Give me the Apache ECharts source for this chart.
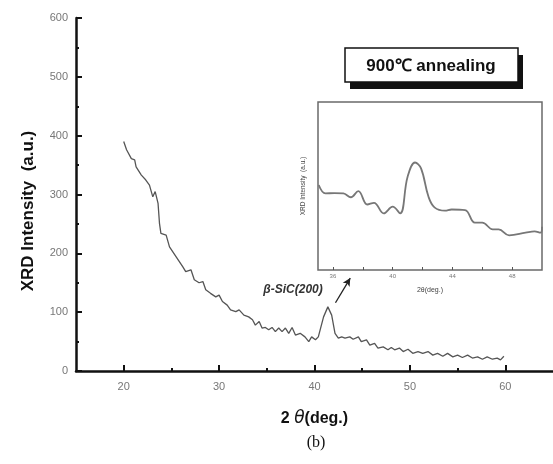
<!DOCTYPE html>
<html>
<head>
<meta charset="utf-8">
<script src="https://cdn.jsdelivr.net/npm/echarts@6/dist/echarts.min.js"></script>
<style>html,body{margin:0;padding:0;background:#fff;}#c{width:553px;height:464px;}</style>
</head>
<body>
<div id="c"></div>
<script>
// Main pattern: 2θ (deg.) vs intensity (a.u.)
const mainTheta = [20.0,20.3,20.8,21.0,21.15,21.3,21.85,22.0,22.3,22.7,23.05,23.3,23.6,23.75,23.9,24.45,24.8,25.5,26.2,26.5,27.05,27.4,27.9,28.3,28.6,29.1,29.65,30.0,30.35,30.85,31.2,31.75,32.1,32.6,33.1,33.5,33.8,34.2,34.5,34.85,35.2,35.55,35.9,36.25,36.6,36.95,37.3,37.65,38.0,38.5,39.0,39.4,39.7,40.1,40.4,40.95,41.4,41.8,42.15,42.5,42.85,43.2,43.7,44.05,44.6,44.9,45.45,45.8,46.3,46.65,47.2,47.7,48.05,48.4,48.9,49.3,49.8,50.3,50.85,51.35,51.9,52.4,52.9,53.45,53.95,54.5,55.0,55.5,56.05,56.55,57.1,57.6,58.1,58.65,59.15,59.5,59.85];
const mainIntensity = [390,376,361,364,359,347,333,330,325,316,296,305,285,251,234,231,211,194,177,169,172,155,150,152,138,132,126,129,118,112,104,101,104,95,92,87,78,84,73,74,70,74,67,73,67,73,64,74,61,64,58,50,58,53,58,92,109,95,64,56,58,56,58,54,58,50,53,44,47,39,41,36,40,36,39,33,37,30,33,30,33,27,30,25,30,24,27,23,27,22,24,20,24,20,22,19,25];
// Inset: enlarged region around the β-SiC(200) peak
const insetTheta = [35.05,35.5,36.1,36.7,37.2,37.7,38.3,38.75,39.4,40.0,40.5,41.0,41.5,41.9,42.4,42.8,43.5,43.95,44.85,45.5,46.0,46.7,47.1,47.8,48.9,49.5,49.9,50.0];
const insetIntensity = [50.6,45.6,45.8,45.6,43.3,47.0,39.0,40.0,33.7,37.7,33.7,55.5,64.0,60.5,43.6,37.3,35.3,36.0,35.7,28.2,28.2,24.2,24.2,20.6,22.2,23.0,22.2,25.8];
// Tick labels
const mainXLabels = [20,30,40,50,60];
const mainXMinor = [25,35,45,55];
const insetXTicks = [36,38,40,42,44,46,48];
const insetXLabels = [36,40,44,48];
// Annotation arrow (data coords) pointing from peak to inset
const arrowStart = [42.2,116];
const arrowEnd = [43.75,158];

const chart = echarts.init(document.getElementById('c'), null, {renderer:'canvas'});
const FONT = 'Liberation Sans, Arial, sans-serif';
const option = {
  animation:false,
  backgroundColor:'#ffffff',
  grid:[
    {left:76, top:18, width:480, height:353, show:false},
    {left:318, top:102, width:224, height:168, show:true, borderColor:'#6a6a6a', borderWidth:1.5, backgroundColor:'transparent'}
  ],
  xAxis:[
    {gridIndex:0, type:'value', min:15, max:65, interval:5,
     axisLine:{show:true, lineStyle:{color:'#111', width:2.5}},
     axisTick:{show:true, inside:true, length:6, customValues:mainXLabels, lineStyle:{color:'#111', width:2}},
     axisLabel:{show:true, customValues:mainXLabels, color:'#777', fontSize:11, fontFamily:FONT, margin:10},
     splitLine:{show:false},
     name:'{b|2 }{t|θ}{b|(deg.)}', nameLocation:'middle', nameGap:39,
     nameTextStyle:{rich:{b:{fontSize:16, fontWeight:'bold', fontFamily:FONT, color:'#111'}, t:{fontSize:17, fontStyle:'italic', fontFamily:'DejaVu Sans, sans-serif', color:'#111'}}}
    },
    {gridIndex:0, type:'value', min:15, max:65, interval:5, position:'bottom',
     axisLine:{show:false}, axisLabel:{show:false}, splitLine:{show:false},
     axisTick:{show:true, inside:true, length:3, customValues:mainXMinor, lineStyle:{color:'#111', width:2}}
    },
    {gridIndex:1, type:'value', min:35, max:50, interval:1,
     axisLine:{show:false},
     axisTick:{show:true, inside:true, length:3, customValues:insetXTicks, lineStyle:{color:'#555', width:1}},
     axisLabel:{show:true, customValues:insetXLabels, color:'#777', fontSize:6, fontFamily:FONT, margin:3},
     splitLine:{show:false},
     name:'2θ(deg.)', nameLocation:'middle', nameGap:17,
     nameTextStyle:{fontSize:7, color:'#444', fontFamily:FONT}
    }
  ],
  yAxis:[
    {gridIndex:0, type:'value', min:0, max:600, interval:100,
     axisLine:{show:true, lineStyle:{color:'#111', width:2.5}},
     axisTick:{show:true, inside:true, length:6, lineStyle:{color:'#111', width:2}},
     minorTick:{show:true, splitNumber:2, length:3, lineStyle:{color:'#111', width:2}},
     axisLabel:{color:'#777', fontSize:11, fontFamily:FONT, margin:8},
     splitLine:{show:false}
    },
    {gridIndex:1, type:'value', min:0, max:100,
     axisLine:{show:false}, axisTick:{show:false}, axisLabel:{show:false}, splitLine:{show:false},
     name:'XRD Intensity  (a.u.)', nameLocation:'middle', nameGap:11, nameRotate:90,
     nameTextStyle:{fontSize:6.5, color:'#444', fontFamily:FONT}
    }
  ],
  series:[
    {type:'line', xAxisIndex:0, yAxisIndex:0, showSymbol:false, symbol:'none',
     data: mainTheta.map((t,i)=>[t, mainIntensity[i]]),
     lineStyle:{color:'#555', width:1.3},
     markLine:{silent:true, symbol:['none','arrow'], symbolSize:[6,8], label:{show:false},
       lineStyle:{color:'#222', width:1.3, type:'solid'},
       data:[[{coord:arrowStart},{coord:arrowEnd}]]}
    },
    {type:'line', xAxisIndex:2, yAxisIndex:1, showSymbol:false, symbol:'none', smooth:0.4,
     data: insetTheta.map((t,i)=>[t, insetIntensity[i]]),
     lineStyle:{color:'#777', width:1.8}
    }
  ],
  graphic:[
    {type:'text', x:28, y:211, rotation:Math.PI/2,
     style:{text:'XRD Intensity  (a.u.)', font:'bold 17px '+FONT, fill:'#111', align:'center', verticalAlign:'middle'}},
    {type:'text', x:316, y:443,
     style:{text:'(b)', font:'16px Liberation Serif, Times New Roman, serif', fill:'#111', align:'center', verticalAlign:'middle'}},
    {type:'text', x:293, y:290,
     style:{text:'β-SiC(200)', font:'italic bold 12px '+FONT, fill:'#333', align:'center', verticalAlign:'middle'}},
    {type:'rect', shape:{x:350, y:55, width:173, height:34}, style:{fill:'#111'}},
    {type:'rect', shape:{x:345, y:48, width:173, height:34}, style:{fill:'#fff', stroke:'#111', lineWidth:1.5}},
    {type:'text', x:431, y:66,
     style:{text:'900℃ annealing', font:'bold 17px '+FONT, fill:'#111', align:'center', verticalAlign:'middle'}}
  ]
};
chart.setOption(option);
</script>
</body>
</html>
